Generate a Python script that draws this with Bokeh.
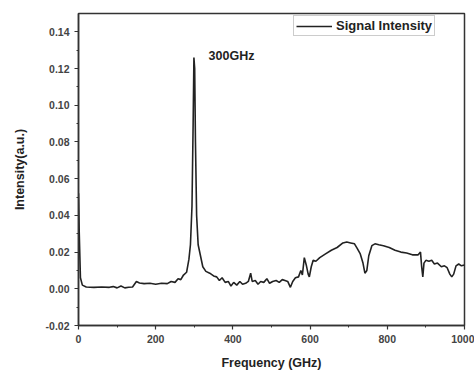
from bokeh.plotting import figure
from bokeh.models import Range1d, FixedTicker, PrintfTickFormatter, Label, Legend, LegendItem
from bokeh.embed import file_html
from bokeh.resources import INLINE

freq = [0, 2, 5, 10, 20, 40, 60, 80, 90, 100, 110, 120, 130, 140, 150, 158, 170, 185, 200,
        215, 230, 240, 250, 258, 265, 272, 280, 286, 290, 294, 297, 299, 301, 303, 306, 310,
        316, 322, 330, 340, 350, 358, 365, 372, 380, 388, 395, 402, 410, 418, 425, 433, 440,
        446, 450, 458, 465, 472, 480, 488, 495, 503, 512, 520, 528, 535, 542, 549, 555, 562,
        570, 576, 580, 585, 590, 595, 598, 603, 608, 615, 625, 640, 655, 670, 685, 695, 705,
        715, 722, 730, 737, 742, 747, 752, 760, 768, 778, 790, 805, 820, 835, 850, 865, 880,
        886, 889, 892, 895, 900, 908, 915, 922, 930, 940, 948, 955, 962, 967, 972, 978, 985,
        992, 1000]
intensity = [0.052, 0.03, 0.006, 0.002, 0.001, 0.0008, 0.001, 0.0008, 0.0012, 0.0005, 0.0015,
             0.0005, 0.0008, 0.001, 0.004, 0.0032, 0.0028, 0.003, 0.0025, 0.003, 0.0028, 0.004,
             0.0035, 0.0055, 0.005, 0.0075, 0.009, 0.016, 0.024, 0.045, 0.09, 0.126, 0.12, 0.08,
             0.04, 0.024, 0.018, 0.012, 0.0095, 0.0085, 0.007, 0.0065, 0.0045, 0.006, 0.0035,
             0.004, 0.0015, 0.0035, 0.002, 0.004, 0.0025, 0.003, 0.004, 0.0085, 0.004, 0.0045,
             0.0025, 0.004, 0.0035, 0.0055, 0.003, 0.004, 0.0045, 0.0035, 0.005, 0.0045, 0.004,
             0.0008, 0.004, 0.006, 0.0065, 0.01, 0.0075, 0.017, 0.013, 0.008, 0.0065, 0.012,
             0.0155, 0.015, 0.017, 0.019, 0.021, 0.0225, 0.025, 0.0255, 0.025, 0.0245, 0.022,
             0.019, 0.014, 0.0085, 0.01, 0.018, 0.0235, 0.0245, 0.024, 0.0235, 0.0225, 0.021,
             0.02, 0.0195, 0.0185, 0.0185, 0.02, 0.012, 0.0065, 0.014, 0.0155, 0.015, 0.0155,
             0.0135, 0.014, 0.012, 0.0125, 0.0115, 0.008, 0.0065, 0.008, 0.0125, 0.0135, 0.0125,
             0.013]

x_ticks = [0, 200, 400, 600, 800, 1000]
y_ticks = [-0.02, 0.0, 0.02, 0.04, 0.06, 0.08, 0.10, 0.12, 0.14]
series_name = "Signal Intensity"
peak_label = "300GHz"

FONT = "Liberation Sans"

p = figure(width=474, height=372, output_backend="svg", toolbar_location=None,
           x_range=Range1d(0, 1000), y_range=Range1d(-0.02, 0.15),
           min_border_left=78, min_border_right=10, min_border_top=13, min_border_bottom=46)

p.background_fill_color = "white"
p.border_fill_color = "white"
p.outline_line_color = "#333333"
p.outline_line_width = 1.5
p.xgrid.visible = False
p.ygrid.visible = False

r = p.line(freq, intensity, line_color="#222222", line_width=1.6)

p.xaxis.ticker = FixedTicker(ticks=x_ticks, minor_ticks=[100, 300, 500, 700, 900])
p.yaxis.ticker = FixedTicker(ticks=y_ticks,
                             minor_ticks=[-0.01, 0.01, 0.03, 0.05, 0.07, 0.09, 0.11, 0.13])
p.yaxis.formatter = PrintfTickFormatter(format="%.2f")

for ax in (p.xaxis, p.yaxis):
    ax.axis_line_color = "#333333"
    ax.axis_line_width = 1.5
    ax.major_tick_line_color = "#333333"
    ax.minor_tick_line_color = "#333333"
    ax.major_tick_line_width = 1.2
    ax.major_tick_out = 4
    ax.major_tick_in = 0
    ax.minor_tick_out = 2
    ax.minor_tick_in = 0
    ax.major_label_text_font = FONT
    ax.major_label_text_font_size = "10.5px"
    ax.major_label_text_font_style = "bold"
    ax.major_label_text_color = "#444444"
    ax.axis_label_text_font = FONT
    ax.axis_label_text_font_size = "12.5px"
    ax.axis_label_text_font_style = "bold"
    ax.axis_label_text_color = "#222222"

p.xaxis.axis_label = "Frequency (GHz)"
p.yaxis.axis_label = "Intensity(a.u.)"
p.xaxis.axis_label_standoff = 10
p.yaxis.axis_label_standoff = 16

p.add_layout(Label(x=337, y=0.127, text=peak_label, text_font=FONT, text_font_size="12.5px",
                   text_font_style="bold", text_color="#222222", text_baseline="middle"))

legend = Legend(items=[LegendItem(label=series_name, renderers=[r])], location=(215, 289))
legend.border_line_color = "#999999"
legend.border_line_width = 1
legend.background_fill_color = "white"
legend.background_fill_alpha = 1
legend.padding = 2
legend.margin = 0
legend.glyph_width = 36
legend.glyph_height = 14
legend.label_height = 14
legend.label_standoff = 4
legend.label_text_font = FONT
legend.label_text_font_size = "13px"
legend.label_text_font_style = "bold"
legend.label_text_color = "#222222"
p.add_layout(legend, "center")

open("out.html", "w").write(file_html(p, INLINE))
